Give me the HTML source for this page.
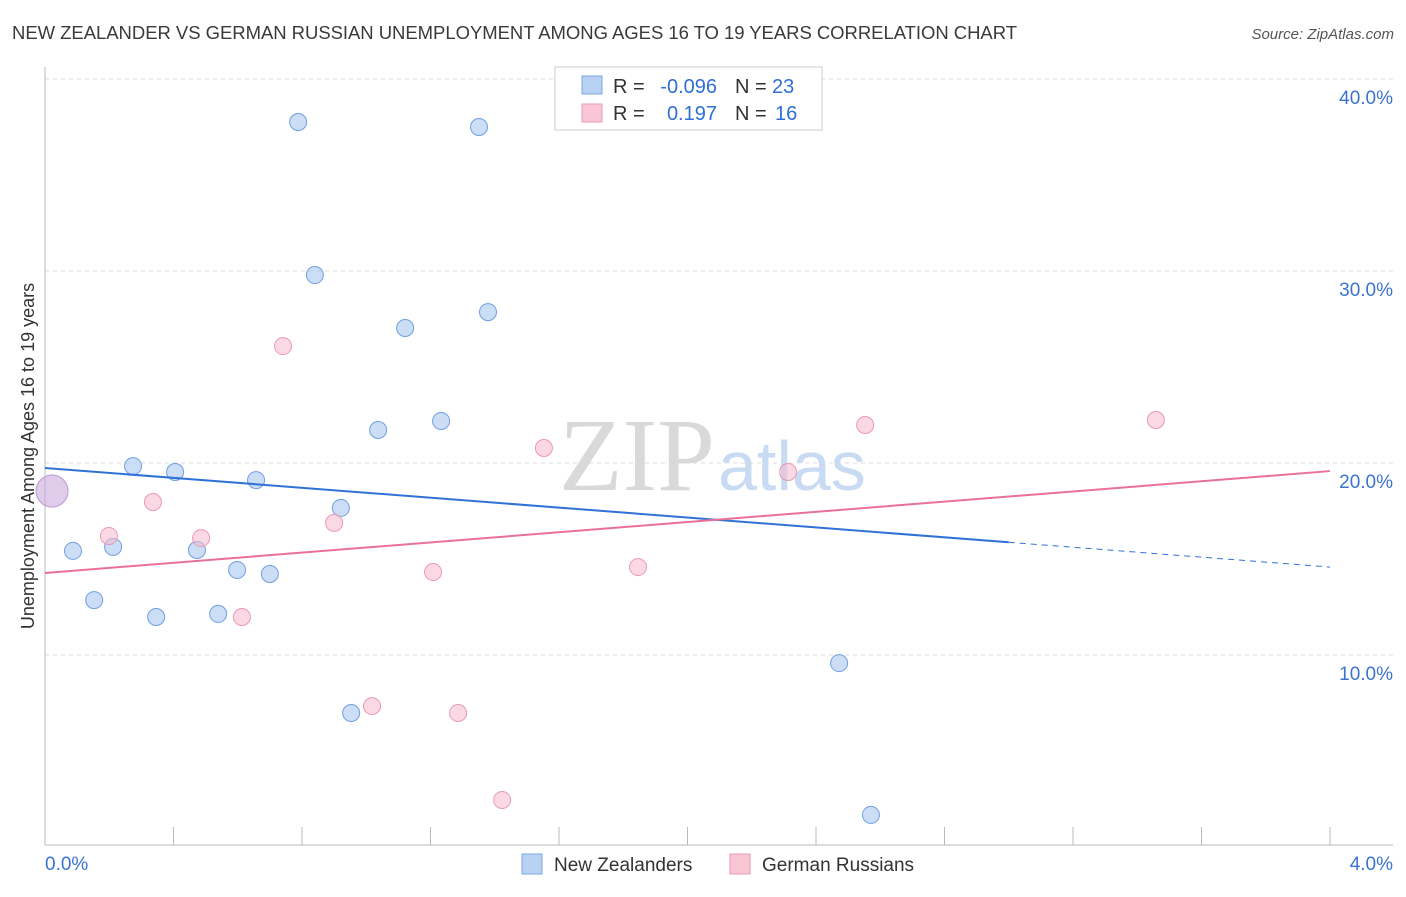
<!DOCTYPE html>
<html><head><meta charset="utf-8"><style>
body{margin:0;background:#fff;font-family:"Liberation Sans",sans-serif;}
svg text{font-family:"Liberation Sans",sans-serif;}
</style></head><body>
<svg width="1406" height="892" xmlns="http://www.w3.org/2000/svg">
<text x="12" y="39" font-size="18.5" fill="#3a3a3a" textLength="1005">NEW ZEALANDER VS GERMAN RUSSIAN UNEMPLOYMENT AMONG AGES 16 TO 19 YEARS CORRELATION CHART</text>
<text x="1394" y="39" font-size="15" fill="#555" font-style="italic" text-anchor="end">Source: ZipAtlas.com</text>
<g id="grid"></g>
<text x="715" y="490" font-size="104" fill="#d9d9d9" text-anchor="end" style="font-family:'Liberation Serif',serif">ZIP</text>
<text x="718" y="490" font-size="70" fill="#c9dbf2">atlas</text>
<text transform="translate(34,456) rotate(-90)" font-size="18" fill="#333" text-anchor="middle">Unemployment Among Ages 16 to 19 years</text>
<g id="marks"></g>
<g>
<rect x="555" y="67" width="267" height="63" fill="#fff" stroke="#ccc"/>
<rect x="582" y="76" width="20" height="18" fill="#b8d2f4" stroke="#7aa6e0"/>
<rect x="582" y="104" width="20" height="18" fill="#f9c6d5" stroke="#eb9bb5"/>
<text x="613" y="93" font-size="20" fill="#333">R =</text>
<text x="717" y="93" font-size="20" fill="#2f6fd6" text-anchor="end">-0.096</text>
<text x="735" y="93" font-size="20" fill="#333">N =</text>
<text x="772" y="93" font-size="20" fill="#2f6fd6">23</text>
<text x="613" y="120" font-size="20" fill="#333">R =</text>
<text x="717" y="120" font-size="20" fill="#2f6fd6" text-anchor="end">0.197</text>
<text x="735" y="120" font-size="20" fill="#333">N =</text>
<text x="775" y="120" font-size="20" fill="#2f6fd6">16</text>
</g>
<g>
<rect x="522" y="854" width="20" height="20" fill="#b8d2f4" stroke="#7aa6e0"/>
<text x="554" y="871" font-size="19" fill="#333">New Zealanders</text>
<rect x="730" y="854" width="20" height="20" fill="#f9c6d5" stroke="#eb9bb5"/>
<text x="762" y="871" font-size="19" fill="#333">German Russians</text>
</g>
<text x="45" y="870" font-size="19" fill="#3a74d0">0.0%</text>
<text x="1393" y="870" font-size="19" fill="#3a74d0" text-anchor="end">4.0%</text>
</svg>
<script>
const yTicks=[10,20,30,40];
const xTicks=[0.4,0.8,1.2,1.6,2.0,2.4,2.8,3.2,3.6,4.0];
const blueX=[0.788,1.351,0.840,1.121,1.379,1.037,1.233,0.274,0.405,0.657,0.921,0.087,0.212,0.473,0.598,0.700,0.153,0.346,0.539,0.953,2.472,2.571];
const blueY=[37.76,37.5,29.79,27.03,27.86,21.72,22.19,19.84,19.53,19.11,17.66,15.42,15.63,15.47,14.43,14.22,12.86,11.98,12.14,6.98,9.58,1.67];
const pinkX=[0.741,1.553,2.553,3.458,0.336,0.199,0.486,0.900,2.313,1.208,1.846,0.613,1.018,1.286,1.423];
const pinkY=[26.09,20.78,21.98,22.24,17.97,16.20,16.09,16.88,19.53,14.32,14.58,11.98,7.34,6.98,2.45];
const bigPoint=[0.022,18.54];
const blueTrend=[19.74,14.58,3.0];
const pinkTrend=[14.27,19.58];
const NS="http://www.w3.org/2000/svg";
const X=v=>45+v/4*1285, Y=v=>847-v*19.2;
function mk(t,a,p){const e=document.createElementNS(NS,t);for(const k in a)e.setAttribute(k,a[k]);p.appendChild(e);return e;}
const g=document.getElementById('grid'), m=document.getElementById('marks');
yTicks.forEach(v=>{
 const l=mk('line',{x1:45,x2:1393,y1:Y(v),y2:Y(v),stroke:'#ddd','stroke-dasharray':'4,4'},g);
 
 
 const t=mk('text',{x:1393,y:Y(v)+25,'font-size':19,fill:'#3a74d0','text-anchor':'end'},g);t.textContent=v.toFixed(1)+'%';
 
 
});
mk('line',{x1:45,x2:45,y1:67,y2:845,stroke:'#bbb'},g);
mk('line',{x1:45,x2:1393,y1:845,y2:845,stroke:'#bbb'},g);
xTicks.forEach(v=>{const l=mk('line',{x1:X(v),x2:X(v),y1:827,y2:845,stroke:'#bbb'},g);
 
 });
blueX.forEach((x,i)=>{const c=mk('circle',{cx:X(x),cy:Y(blueY[i]),r:8.5,fill:'rgba(169,200,240,0.6)',stroke:'#6f9fe0','stroke-width':1},m);
 
 });
pinkX.forEach((x,i)=>{const c=mk('circle',{cx:X(x),cy:Y(pinkY[i]),r:8.5,fill:'rgba(246,186,205,0.55)',stroke:'#e99ab4','stroke-width':1},m);
 
 });
const b=mk('circle',{cx:X(bigPoint[0]),cy:Y(bigPoint[1]),r:16,fill:'rgba(200,170,220,0.6)',stroke:'#b99ad6'},m);


const bs=blueTrend[0]+(blueTrend[1]-blueTrend[0])*blueTrend[2]/4;
const l1=mk('line',{x1:X(0),y1:Y(blueTrend[0]),x2:X(blueTrend[2]),y2:Y(bs),stroke:'#2f72d6','stroke-width':2},m);


const l2=mk('line',{x1:X(blueTrend[2]),y1:Y(bs),x2:X(4),y2:Y(blueTrend[1]),stroke:'#2f72d6','stroke-width':1,'stroke-dasharray':'6,5'},m);


const l3=mk('line',{x1:X(0),y1:Y(pinkTrend[0]),x2:X(4),y2:Y(pinkTrend[1]),stroke:'#e8709a','stroke-width':2},m);


</script>
</body></html>
